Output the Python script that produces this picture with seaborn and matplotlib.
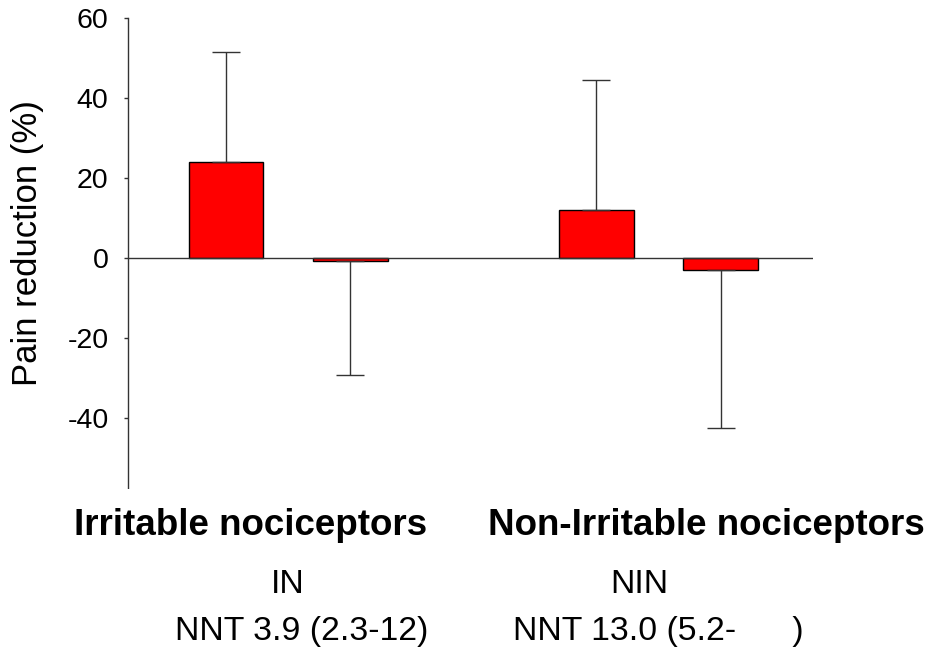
import matplotlib
matplotlib.use("Agg")
import matplotlib.pyplot as plt
from matplotlib.patches import Rectangle
import seaborn as sns
import pandas as pd

# ---- data ----
groups = ["Irritable nociceptors", "Non-Irritable nociceptors"]
treatments = ["Active", "Placebo"]
group_col = ["Irritable nociceptors", "Irritable nociceptors",
             "Non-Irritable nociceptors", "Non-Irritable nociceptors"]
treat_col = ["Active", "Placebo", "Active", "Placebo"]
means = [24.0, -0.8, 12.1, -3.1]
err_tips = [51.6, -29.3, 44.4, -42.6]
yticks = [-60, -40, -20, 0, 20, 40, 60]
ylabel = "Pain reduction (%)"
sub_labels = ["IN", "NIN"]
nnt_labels = ["NNT 3.9 (2.3-12)", "NNT 13.0 (5.2-      )"]

df = pd.DataFrame({"group": group_col, "treatment": treat_col, "value": means})

sns.set_style("white")
plt.rcParams["font.family"] = ["Liberation Sans", "DejaVu Sans"]
plt.rcParams["axes.unicode_minus"] = False
plt.rcParams["text.color"] = "black"
plt.rcParams["axes.labelcolor"] = "black"
plt.rcParams["ytick.color"] = "black"

W, H = 928, 648
fig = plt.figure(figsize=(W / 100, H / 100), dpi=100)
ax = fig.add_axes([128 / W, 1 - 498 / H, (813.5 - 128) / W, (498 - 18) / H])

sns.barplot(data=df, x="group", y="value", hue="treatment",
            order=groups, hue_order=treatments,
            palette=["#FF0000", "#FF0000"], saturation=1,
            width=0.67, gap=0.4,
            edgecolor="black", linewidth=1.0, errorbar=None,
            legend=False, ax=ax)

# error bars (one-sided) at bar centres
bars = [p for p in ax.patches if isinstance(p, Rectangle) and p.get_width() > 0]
bars = sorted(bars, key=lambda p: p.get_x())
xs = [p.get_x() + p.get_width() / 2 for p in bars]
lower = [max(m - t, 0) for m, t in zip(means, err_tips)]
upper = [max(t - m, 0) for m, t in zip(means, err_tips)]
ax.errorbar(xs, means, yerr=[lower, upper], fmt="none", ecolor="#333333",
            elinewidth=1.0, capsize=10, capthick=1.0, zorder=1)

ax.axhline(0, color="#333333", lw=1.0, zorder=3)

ax.set_xlim(-0.433, 1.4187)
ax.set_ylim(-60, 60)
ax.set_yticks(yticks)
ax.set_yticklabels([str(v) for v in yticks])
ax.set_xticks([])
ax.set_xlabel("")
for s in ["top", "right", "bottom"]:
    ax.spines[s].set_visible(False)
ax.spines["left"].set_color("#333333")
ax.spines["left"].set_linewidth(1.0)
ax.tick_params(axis="y", left=True, length=3, width=1.0, color="#333333",
               pad=11, labelsize=20.5, labelcolor="black")

ax.set_ylabel(ylabel, fontsize=25, color="black")
ax.yaxis.label.set_va("center")
ax.yaxis.set_label_coords(28 / W, 1 - 243 / H, transform=fig.transFigure)

# white cover over the bottom of the axis (as in the original)
fig.patches.append(Rectangle((0, 0), 1, 1 - 489 / H, transform=fig.transFigure,
                             facecolor="white", edgecolor="none", zorder=5))

def fx(px):
    return px / W

def fy(py):
    return 1 - py / H

fig.text(fx(250.5), fy(535), groups[0], ha="center", va="baseline",
         fontsize=26.5, fontweight="bold", color="black", zorder=6)
fig.text(fx(706), fy(535), groups[1], ha="center", va="baseline",
         fontsize=26.5, fontweight="bold", color="black", zorder=6)
fig.text(fx(288), fy(593), sub_labels[0], ha="center", va="baseline",
         fontsize=24.3, color="black", zorder=6)
fig.text(fx(639), fy(593), sub_labels[1], ha="center", va="baseline",
         fontsize=24.3, color="black", zorder=6)
fig.text(fx(301.5), fy(640), nnt_labels[0], ha="center", va="baseline",
         fontsize=24.3, color="black", zorder=6)
fig.text(fx(658.5), fy(640), nnt_labels[1], ha="center", va="baseline",
         fontsize=24.3, color="black", zorder=6)

fig.savefig("out.png", dpi=100, facecolor="white")
